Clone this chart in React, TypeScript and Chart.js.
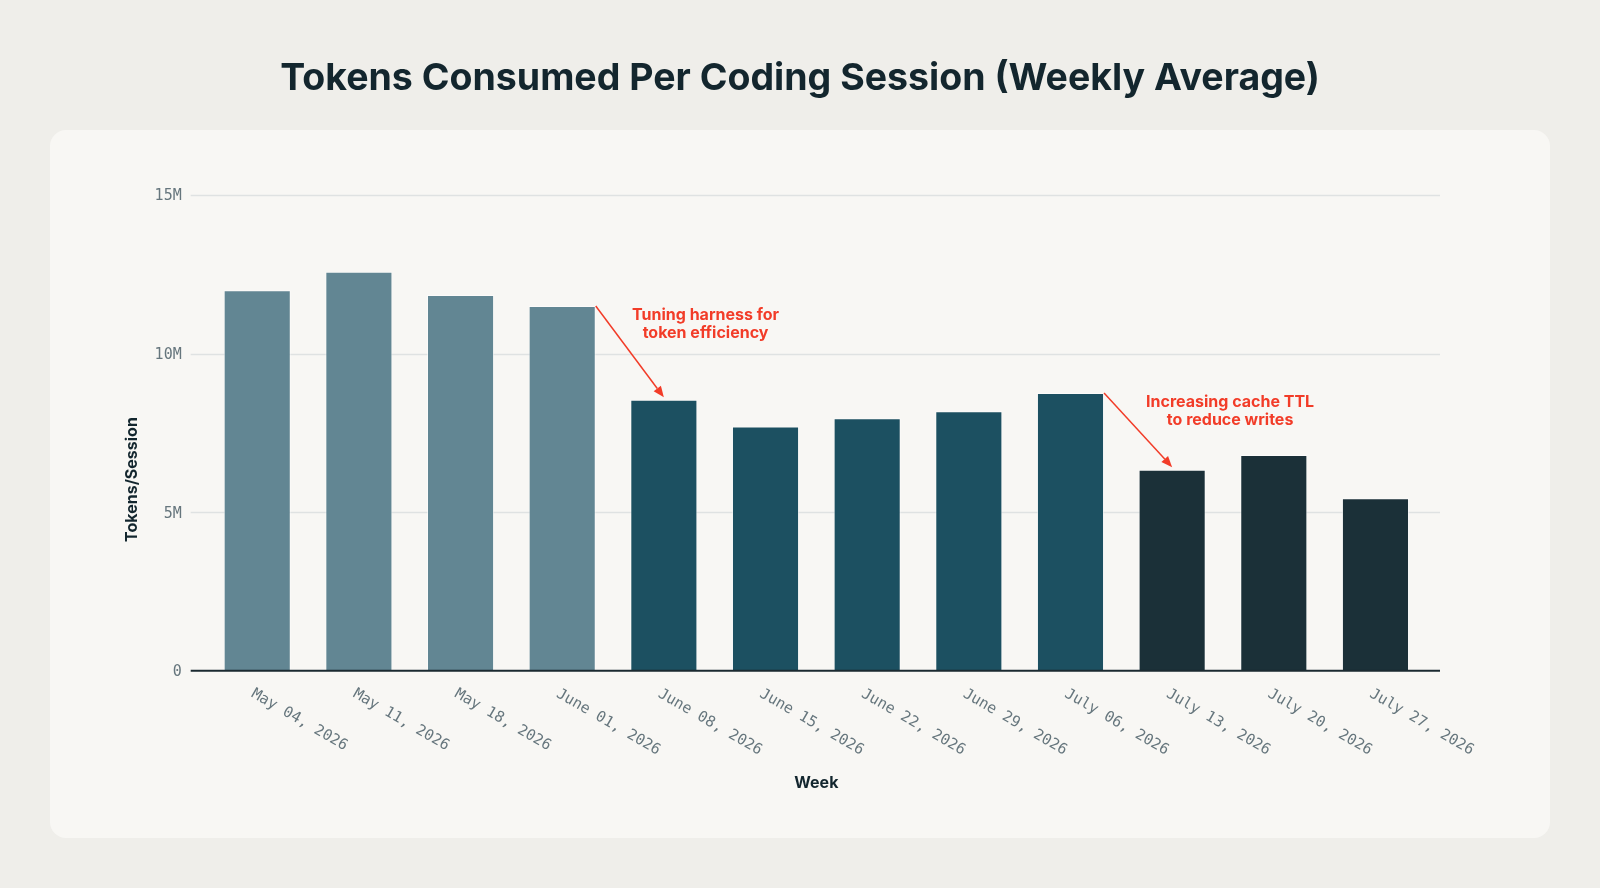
import { useEffect, useRef } from 'react'
import { Chart, registerables, type Plugin } from 'chart.js'

Chart.register(...registerables)

const TITLE = 'Tokens Consumed Per Coding Session (Weekly Average)'

const weeks = [
  'May 04, 2026', 'May 11, 2026', 'May 18, 2026', 'June 01, 2026',
  'June 08, 2026', 'June 15, 2026', 'June 22, 2026', 'June 29, 2026',
  'July 06, 2026', 'July 13, 2026', 'July 20, 2026', 'July 27, 2026',
]
// weekly average, millions of tokens per session
const tokensPerSessionM = [12.0, 12.58, 11.85, 11.5, 8.54, 7.7, 7.96, 8.18, 8.76, 6.34, 6.8, 5.44]
const phase = [
  'before', 'before', 'before', 'before',
  'harness', 'harness', 'harness', 'harness', 'harness',
  'cache', 'cache', 'cache',
]
const yTicksM = [0, 5, 10, 15]
const yTickLabels = ['0', '5M', '10M', '15M']

const annotationLines = [
  ['Tuning harness for', 'token efficiency'],
  ['Increasing cache TTL', 'to reduce writes'],
]
const annotationFrom = [3, 8] // arrow goes from this bar to the next one
const annotationAt = [[4.41, 11.22], [9.57, 8.46]] // text centre as (week index, M tokens)

const PHASE_COLOR: Record<string, string> = {
  before:  '#628693',
  harness: '#1c5061',
  cache:   '#1b3038',
}

const MONO = '"DejaVu Sans Mono", monospace'
const SANS = 'Inter, "DejaVu Sans", sans-serif'
const INK = '#13262e'
const TICK = '#66767d'
const RED = '#f23c28'

const decor: Plugin<'bar'> = {
  id: 'decor',
  beforeDraw(chart) {
    const { ctx, width, height } = chart
    ctx.save()
    ctx.fillStyle = '#efeeea'
    ctx.fillRect(0, 0, width, height)
    ctx.fillStyle = '#f8f7f4'
    ctx.beginPath()
    ctx.roundRect(50, 130, 1500, 708, 16)
    ctx.fill()
    ctx.fillStyle = INK
    ctx.font = `700 37.5px ${SANS}`
    ctx.textAlign = 'center'
    ctx.textBaseline = 'alphabetic'
    ctx.fillText(TITLE, width / 2, 90)
    ctx.restore()
  },
  beforeDatasetsDraw(chart) {
    const { ctx, chartArea } = chart
    const y = chart.scales.y
    ctx.save()
    ctx.strokeStyle = '#dfe2e2'
    ctx.lineWidth = 1.5
    ctx.fillStyle = TICK
    ctx.font = `15px ${MONO}`
    ctx.textAlign = 'right'
    ctx.textBaseline = 'middle'
    yTicksM.forEach((v, i) => {
      const py = y.getPixelForValue(v)
      ctx.fillText(yTickLabels[i], chartArea.left - 24.7, py + 1.6)
      if (v === 0) return
      const gy = Math.round(py) + 0.5
      ctx.beginPath()
      ctx.moveTo(chartArea.left - 15.7, gy)
      ctx.lineTo(chartArea.right + 13.7, gy)
      ctx.stroke()
    })
    ctx.restore()
  },
  afterDatasetsDraw(chart) {
    const { ctx, chartArea } = chart
    const x = chart.scales.x
    const y = chart.scales.y
    ctx.save()

    // zero line
    ctx.strokeStyle = '#1b2a31'
    ctx.lineWidth = 2
    const y0 = y.getPixelForValue(0)
    ctx.beginPath()
    ctx.moveTo(chartArea.left - 15.7, y0)
    ctx.lineTo(chartArea.right + 13.7, y0)
    ctx.stroke()

    // week labels, tilted down to the right
    ctx.fillStyle = TICK
    ctx.font = `15px ${MONO}`
    ctx.textAlign = 'left'
    ctx.textBaseline = 'alphabetic'
    weeks.forEach((w, i) => {
      ctx.save()
      ctx.translate(x.getPixelForValue(i), chartArea.bottom)
      ctx.rotate(Math.PI / 6)
      ctx.fillText(w, 7, 25.5)
      ctx.restore()
    })

    // axis titles
    ctx.fillStyle = INK
    ctx.font = `700 16px ${SANS}`
    ctx.textAlign = 'center'
    ctx.textBaseline = 'middle'
    ctx.fillText('Week', (chartArea.left + chartArea.right) / 2, chartArea.bottom + 112)
    ctx.save()
    ctx.translate(chartArea.left - 74.4, (chartArea.top + chartArea.bottom) / 2 + 46.7)
    ctx.rotate(-Math.PI / 2)
    ctx.fillText('Tokens/Session', 0, 0)
    ctx.restore()

    // annotations
    const bars = chart.getDatasetMeta(0).data as any[]
    ctx.strokeStyle = RED
    ctx.fillStyle = RED
    ctx.lineWidth = 1.5
    annotationFrom.forEach((from, k) => {
      const a = bars[from]
      const b = bars[from + 1]
      const sx = a.x + a.width / 2
      const sy = a.y
      const ex = b.x
      const ey = b.y - 2.5
      const ang = Math.atan2(ey - sy, ex - sx)
      const len = 11
      const hw = 4.5
      const bx = ex - Math.cos(ang) * len
      const by = ey - Math.sin(ang) * len
      ctx.beginPath()
      ctx.moveTo(sx, sy)
      ctx.lineTo(bx, by)
      ctx.stroke()
      ctx.beginPath()
      ctx.moveTo(ex, ey)
      ctx.lineTo(bx + Math.sin(ang) * hw, by - Math.cos(ang) * hw)
      ctx.lineTo(bx - Math.sin(ang) * hw, by + Math.cos(ang) * hw)
      ctx.closePath()
      ctx.fill()

      const [ix, vy] = annotationAt[k]
      const tx = x.getPixelForValue(ix)
      const ty = y.getPixelForValue(vy)
      ctx.font = `700 16px ${SANS}`
      ctx.textAlign = 'center'
      ctx.textBaseline = 'middle'
      annotationLines[k].forEach((line, j) => ctx.fillText(line, tx, ty + j * 18))
    })

    ctx.restore()
  },
}

export default function App() {
  const canvasRef = useRef<HTMLCanvasElement>(null)

  useEffect(() => {
    if (!canvasRef.current) return
    const chart = new Chart(canvasRef.current, {
      type: 'bar',
      data: {
        labels: weeks,
        datasets: [{
          label: 'Tokens/Session',
          data: tokensPerSessionM,
          backgroundColor: phase.map(p => PHASE_COLOR[p]),
          borderColor: 'rgba(255,255,255,0.55)',
          borderWidth: 1,
          borderSkipped: 'bottom',
          barPercentage: 0.66,
          categoryPercentage: 1,
        }],
      },
      options: {
        responsive: false,
        animation: false,
        layout: { padding: { left: 206.4, right: 173.7, top: 195, bottom: 217.3 } },
        plugins: {
          legend: { display: false },
          tooltip: { enabled: false },
        },
        scales: {
          x: { display: false },
          y: { display: false, min: 0, max: 15 },
        },
      },
      plugins: [decor],
    })
    return () => chart.destroy()
  }, [])

  return (
    <div style={{ position: 'absolute', left: 0, top: 0, width: 1600, height: 888 }}>
      <canvas ref={canvasRef} width={1600} height={888} style={{ width: 1600, height: 888 }} />
    </div>
  )
}
